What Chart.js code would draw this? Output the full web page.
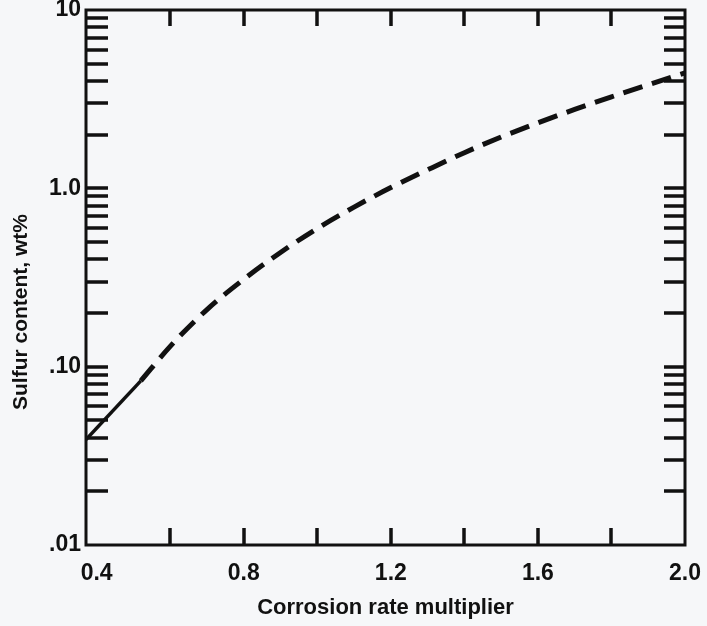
<!DOCTYPE html>
<html><head><meta charset="utf-8">
<script src="https://cdn.jsdelivr.net/npm/chart.js@4.4.1/dist/chart.umd.min.js"></script>
<style>html,body{margin:0;padding:0;background:#f6f7f9;} #wrap{width:707px;height:626px;position:relative}</style>
</head><body><div id="wrap"><canvas id="c" width="707" height="626"></canvas></div>
<script>
// ---- data ----
const solidX = [0.371, 0.52];
const solidY = [0.039, 0.0832];
const dashedX = [0.52, 0.6, 0.7, 0.8, 0.9, 1.0, 1.1, 1.2, 1.3, 1.4, 1.5, 1.6, 1.7, 1.8, 1.9, 2.0];
const dashedY = [0.0832, 0.130, 0.209, 0.309, 0.437, 0.596, 0.785, 1.01, 1.27, 1.585, 1.94, 2.33, 2.77, 3.26, 3.81, 4.44];
const xTickValues = [0.4, 0.8, 1.2, 1.6, 2.0];
const xTickLabels = ["0.4", "0.8", "1.2", "1.6", "2.0"];
const xMarkTicks = [0.6, 0.8, 1.0, 1.2, 1.4, 1.6, 1.8];
const yTickValues = [0.01, 0.1, 1, 10];
const yTickLabels = [".01", ".10", "1.0", "10"];
const yMarkTicks = [0.02, 0.03, 0.04, 0.05, 0.06, 0.07, 0.08, 0.09, 0.1,
                    0.2, 0.3, 0.4, 0.5, 0.6, 0.7, 0.8, 0.9, 1,
                    2, 3, 4, 5, 6, 7, 8, 9];
const xTitle = "Corrosion rate multiplier";
const yTitle = "Sulfur content, wt%";

const INK = '#111111';
const FONT = '"Liberation Sans", Arial, Helvetica, sans-serif';

const framePlugin = {
  id: 'frame',
  afterDraw(chart) {
    const {ctx, chartArea: a, scales: {x, y}} = chart;
    ctx.save();
    ctx.strokeStyle = INK;
    ctx.lineCap = 'butt';
    ctx.lineWidth = 3.5;
    ctx.beginPath();
    yMarkTicks.forEach(v => {
      const py = Math.round(y.getPixelForValue(v));
      ctx.moveTo(a.left, py); ctx.lineTo(a.left + 22, py);
      ctx.moveTo(a.right, py); ctx.lineTo(a.right - 21, py);
    });
    xMarkTicks.forEach(v => {
      const px = Math.round(x.getPixelForValue(v));
      ctx.moveTo(px, a.bottom); ctx.lineTo(px, a.bottom - 17);
      ctx.moveTo(px, a.top); ctx.lineTo(px, a.top + 16);
    });
    ctx.stroke();
    ctx.lineWidth = 3;
    ctx.strokeRect(a.left, a.top, a.right - a.left, a.bottom - a.top);
    ctx.fillStyle = INK;
    ctx.font = 'bold 21px ' + FONT;
    ctx.textAlign = 'center';
    ctx.textBaseline = 'middle';
    ctx.translate(21, 312);
    ctx.rotate(-Math.PI / 2);
    ctx.fillText(yTitle, 0, 0);
    ctx.restore();
  }
};

new Chart(document.getElementById('c'), {
  type: 'line',
  data: {
    datasets: [
      {
        data: solidX.map((v, i) => ({x: v, y: solidY[i]})),
        borderColor: INK, borderWidth: 3.5, pointRadius: 0, tension: 0, fill: false
      },
      {
        data: dashedX.map((v, i) => ({x: v, y: dashedY[i]})),
        borderColor: INK, borderWidth: 5, borderDash: [20, 10], pointRadius: 0,
        cubicInterpolationMode: 'monotone', fill: false, borderCapStyle: 'butt'
      }
    ]
  },
  options: {
    responsive: false,
    animation: false,
    layout: {padding: {top: 10, right: 22, left: 0, bottom: 0}},
    plugins: {legend: {display: false}, tooltip: {enabled: false}},
    scales: {
      x: {
        type: 'linear', min: 0.371, max: 2.0,
        grid: {display: false, drawTicks: false},
        border: {display: false},
        afterBuildTicks: s => { s.ticks = xTickValues.map(v => ({value: v})); },
        afterFit: s => { s.height = 81; s.paddingLeft = 0; s.paddingRight = 0; },
        ticks: {
          autoSkip: false, maxRotation: 0, padding: 15, color: INK,
          font: {family: FONT, size: 23, weight: 'bold'},
          callback: (v, i) => xTickLabels[i]
        },
        title: {
          display: true, text: xTitle, color: INK,
          font: {family: FONT, size: 22, weight: 'bold'},
          padding: {top: 0, bottom: 5}
        }
      },
      y: {
        type: 'logarithmic', min: 0.01, max: 10,
        grid: {display: false, drawTicks: false},
        border: {display: false},
        afterBuildTicks: s => { s.ticks = yTickValues.map(v => ({value: v})); },
        afterFit: s => { s.width = 86; s.paddingTop = 0; s.paddingBottom = 0; },
        ticks: {
          autoSkip: false, padding: 5, color: INK,
          font: {family: FONT, size: 23, weight: 'bold'},
          callback: (v, i) => yTickLabels[i]
        }
      }
    }
  },
  plugins: [framePlugin]
});
</script>
</body></html>
